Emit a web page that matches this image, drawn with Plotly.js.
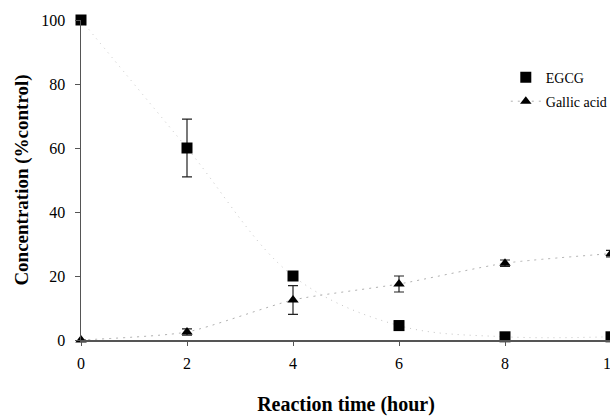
<!DOCTYPE html>
<html><head><meta charset="utf-8">
<script src="https://cdn.plot.ly/plotly-3.0.1.min.js"></script>
<style>html,body{margin:0;padding:0;overflow:hidden;background:#fff;width:610px;height:416px}</style>
</head><body>
<div id="chart" style="width:620px;height:416px"></div>
<script>
const hours = [0, 2, 4, 6, 8, 10];
const egcg = [100, 60, 20, 4.5, 1, 1];
const egcgErr = [0, 9, 1.2, 1.5, 0.5, 0.5];
const gallic = [0, 2.5, 12.5, 17.5, 24, 27];
const gallicErr = [0, 1, 4.5, 2.5, 1, 1];
const xTicks = [0, 2, 4, 6, 8, 10];
const yTicks = [0, 20, 40, 60, 80, 100];

const serif = "'Liberation Serif', 'Times New Roman', serif";

const data = [
  {x: hours, y: egcg, mode: 'lines', line: {color: '#c4c4c4', width: 1, dash: '1px,5px', shape: 'spline', smoothing: 1}, showlegend: false, hoverinfo: 'skip', cliponaxis: false},
  {x: hours, y: egcg, name: 'EGCG', mode: 'markers', cliponaxis: false, legend: 'legend',
   marker: {symbol: 'square', size: 11, color: '#000'},
   error_y: {type: 'data', array: egcgErr, visible: true, color: '#222', thickness: 1.2, width: 5}},
  {x: hours, y: gallic, name: 'Gallic acid', mode: 'lines+markers', cliponaxis: false, legend: 'legend2',
   line: {color: '#b0b0b0', width: 1, dash: '2px,5px', shape: 'spline', smoothing: 0.6},
   marker: {symbol: 'triangle-up', size: 10, color: '#000'},
   error_y: {type: 'data', array: gallicErr, visible: true, color: '#222', thickness: 1.2, width: 5}}
];

const legBase = {xanchor: 'left', yanchor: 'middle', bgcolor: 'rgba(0,0,0,0)',
                 font: {family: serif, size: 14, color: '#000'}, itemwidth: 30};

const layout = {
  width: 620, height: 416,
  margin: {l: 81, r: 8, t: 20, b: 76},
  paper_bgcolor: '#fff', plot_bgcolor: '#fff',
  font: {family: serif, color: '#000', size: 16},
  showlegend: true,
  legend: Object.assign({}, legBase, {x: 0.80, y: 0.82}),
  legend2: Object.assign({}, legBase, {x: 0.80, y: 0.745}),
  xaxis: {range: [0, 10], tickvals: xTicks, ticktext: xTicks.map(String), showgrid: false, zeroline: false,
          showline: true, linecolor: '#555', linewidth: 1.5, ticks: 'outside', ticklen: 4, tickcolor: '#555',
          tickfont: {size: 16, family: serif}, ticklabelstandoff: 4, fixedrange: true,
          title: {text: '<b>Reaction time (hour)</b>', font: {size: 20, family: serif}, standoff: 33}},
  yaxis: {range: [0, 100], tickvals: yTicks, ticktext: yTicks.map(String), showgrid: false, zeroline: false,
          showline: true, linecolor: '#555', linewidth: 1.5, ticks: 'outside', ticklen: 5, tickcolor: '#555',
          tickfont: {size: 16, family: serif}, ticklabelstandoff: 6, fixedrange: true,
          title: {text: '<b>Concentration (%control)</b>', font: {size: 19, family: serif}, standoff: 7}}
};
Plotly.newPlot('chart', data, layout, {displayModeBar: false, staticPlot: true});
</script>
</body></html>
